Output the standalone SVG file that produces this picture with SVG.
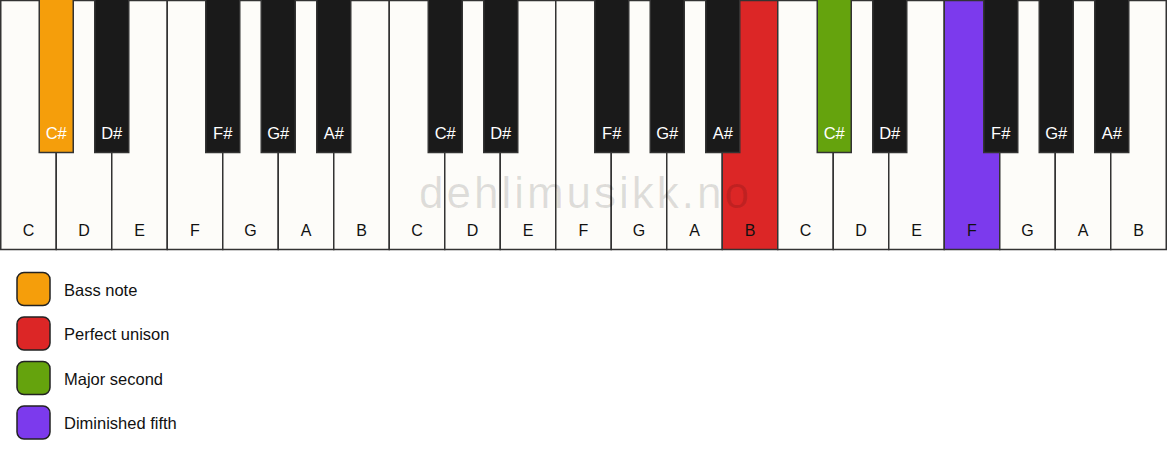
<svg xmlns="http://www.w3.org/2000/svg" width="1167" height="461" viewBox="0 0 1167 461">
<style>
.w{fill:#fdfcf9;stroke:#333;stroke-width:1.5}
.b{fill:#1a1a1a;stroke:#333;stroke-width:1.5}
.wl{font-family:"Liberation Sans",Arial,sans-serif;font-size:16px;fill:#111;text-anchor:middle}
.bl{font-family:"Liberation Sans",Arial,sans-serif;font-size:16.5px;fill:#fff;text-anchor:middle}
.lg{stroke:#222;stroke-width:1.5}
.lt{font-family:"Liberation Sans",Arial,sans-serif;font-size:16.5px;fill:#111}
</style>
<rect width="1167" height="461" fill="#fff"/>
<g id="white-keys">
<g id="w0"><rect class="w" x="0.75" y="0.5" width="55.5" height="249"/><text class="wl" x="28.5" y="236">C</text></g>
<g id="w1"><rect class="w" x="56.25" y="0.5" width="55.5" height="249"/><text class="wl" x="84" y="236">D</text></g>
<g id="w2"><rect class="w" x="111.75" y="0.5" width="55.5" height="249"/><text class="wl" x="139.5" y="236">E</text></g>
<g id="w3"><rect class="w" x="167.25" y="0.5" width="55.5" height="249"/><text class="wl" x="195" y="236">F</text></g>
<g id="w4"><rect class="w" x="222.75" y="0.5" width="55.5" height="249"/><text class="wl" x="250.5" y="236">G</text></g>
<g id="w5"><rect class="w" x="278.25" y="0.5" width="55.5" height="249"/><text class="wl" x="306" y="236">A</text></g>
<g id="w6"><rect class="w" x="333.75" y="0.5" width="55.5" height="249"/><text class="wl" x="361.5" y="236">B</text></g>
<g id="w7"><rect class="w" x="389.25" y="0.5" width="55.5" height="249"/><text class="wl" x="417" y="236">C</text></g>
<g id="w8"><rect class="w" x="444.75" y="0.5" width="55.5" height="249"/><text class="wl" x="472.5" y="236">D</text></g>
<g id="w9"><rect class="w" x="500.25" y="0.5" width="55.5" height="249"/><text class="wl" x="528" y="236">E</text></g>
<g id="w10"><rect class="w" x="555.75" y="0.5" width="55.5" height="249"/><text class="wl" x="583.5" y="236">F</text></g>
<g id="w11"><rect class="w" x="611.25" y="0.5" width="55.5" height="249"/><text class="wl" x="639" y="236">G</text></g>
<g id="w12"><rect class="w" x="666.75" y="0.5" width="55.5" height="249"/><text class="wl" x="694.5" y="236">A</text></g>
<g id="w13"><rect class="w" x="722.25" y="0.5" width="55.5" height="249" style="fill:#dc2626"/><text class="wl" x="750" y="236">B</text></g>
<g id="w14"><rect class="w" x="777.75" y="0.5" width="55.5" height="249"/><text class="wl" x="805.5" y="236">C</text></g>
<g id="w15"><rect class="w" x="833.25" y="0.5" width="55.5" height="249"/><text class="wl" x="861" y="236">D</text></g>
<g id="w16"><rect class="w" x="888.75" y="0.5" width="55.5" height="249"/><text class="wl" x="916.5" y="236">E</text></g>
<g id="w17"><rect class="w" x="944.25" y="0.5" width="55.5" height="249" style="fill:#7c3aed"/><text class="wl" x="972" y="236">F</text></g>
<g id="w18"><rect class="w" x="999.75" y="0.5" width="55.5" height="249"/><text class="wl" x="1027.5" y="236">G</text></g>
<g id="w19"><rect class="w" x="1055.25" y="0.5" width="55.5" height="249"/><text class="wl" x="1083" y="236">A</text></g>
<g id="w20"><rect class="w" x="1110.75" y="0.5" width="55.5" height="249"/><text class="wl" x="1138.5" y="236">B</text></g>
</g>
<text x="585.5" y="208" font-family="Liberation Sans,Arial,sans-serif" font-size="44" letter-spacing="3" fill="#000" fill-opacity="0.12" text-anchor="middle">dehlimusikk.no</text>
<g id="black-keys">
<g id="b0"><rect class="b" x="39.25" y="-1" width="34" height="153.5" style="fill:#f59e0b"/><text class="bl" x="56.25" y="139">C#</text></g>
<g id="b1"><rect class="b" x="94.75" y="-1" width="34" height="153.5"/><text class="bl" x="111.75" y="139">D#</text></g>
<g id="b2"><rect class="b" x="205.75" y="-1" width="34" height="153.5"/><text class="bl" x="222.75" y="139">F#</text></g>
<g id="b3"><rect class="b" x="261.25" y="-1" width="34" height="153.5"/><text class="bl" x="278.25" y="139">G#</text></g>
<g id="b4"><rect class="b" x="316.75" y="-1" width="34" height="153.5"/><text class="bl" x="333.75" y="139">A#</text></g>
<g id="b5"><rect class="b" x="428.25" y="-1" width="34" height="153.5"/><text class="bl" x="445.25" y="139">C#</text></g>
<g id="b6"><rect class="b" x="483.75" y="-1" width="34" height="153.5"/><text class="bl" x="500.75" y="139">D#</text></g>
<g id="b7"><rect class="b" x="594.75" y="-1" width="34" height="153.5"/><text class="bl" x="611.75" y="139">F#</text></g>
<g id="b8"><rect class="b" x="650.25" y="-1" width="34" height="153.5"/><text class="bl" x="667.25" y="139">G#</text></g>
<g id="b9"><rect class="b" x="705.75" y="-1" width="34" height="153.5"/><text class="bl" x="722.75" y="139">A#</text></g>
<g id="b10"><rect class="b" x="817.25" y="-1" width="34" height="153.5" style="fill:#65a30d"/><text class="bl" x="834.25" y="139">C#</text></g>
<g id="b11"><rect class="b" x="872.75" y="-1" width="34" height="153.5"/><text class="bl" x="889.75" y="139">D#</text></g>
<g id="b12"><rect class="b" x="983.75" y="-1" width="34" height="153.5"/><text class="bl" x="1000.75" y="139">F#</text></g>
<g id="b13"><rect class="b" x="1039.25" y="-1" width="34" height="153.5"/><text class="bl" x="1056.25" y="139">G#</text></g>
<g id="b14"><rect class="b" x="1094.75" y="-1" width="34" height="153.5"/><text class="bl" x="1111.75" y="139">A#</text></g>
</g>
<g id="legend">
<g id="lg0"><rect class="lg" x="17" y="272.5" width="33" height="33" rx="7" fill="#f59e0b"/><text class="lt" x="64" y="295.5">Bass note</text></g>
<g id="lg1"><rect class="lg" x="17" y="317" width="33" height="33" rx="7" fill="#dc2626"/><text class="lt" x="64" y="340">Perfect unison</text></g>
<g id="lg2"><rect class="lg" x="17" y="361.5" width="33" height="33" rx="7" fill="#65a30d"/><text class="lt" x="64" y="384.5">Major second</text></g>
<g id="lg3"><rect class="lg" x="17" y="406" width="33" height="33" rx="7" fill="#7c3aed"/><text class="lt" x="64" y="429">Diminished fifth</text></g>
</g>
</svg>
